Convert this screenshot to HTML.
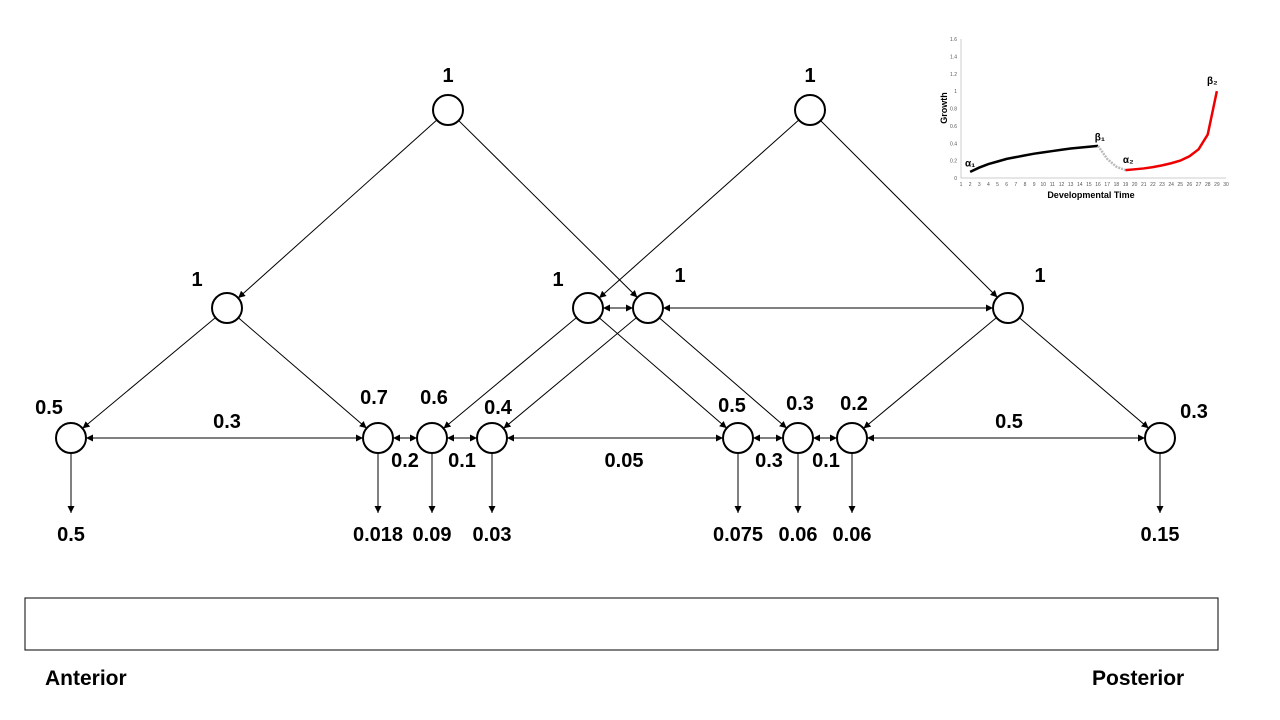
<!DOCTYPE html>
<html><head><meta charset="utf-8"><style>
body{margin:0;background:#fff}
svg{display:block}
text{font-family:"Liberation Sans",sans-serif}
</style></head><body>
<svg id="s" width="1280" height="720">
<defs>
<marker id="ah" viewBox="0 0 10 10" refX="10" refY="5" markerWidth="7" markerHeight="7" markerUnits="userSpaceOnUse" orient="auto-start-reverse"><path d="M0,0L10,5L0,10z" fill="#000"/></marker>
</defs>
<g id="edges"></g><g id="nodes"></g><g id="labels"></g><g id="inset"></g>
<rect x="25" y="598" width="1193" height="52" fill="none" stroke="#000" stroke-width="1"/>
<text x="45" y="685" font-size="21" font-weight="bold">Anterior</text>
<text x="1092" y="685" font-size="21" font-weight="bold">Posterior</text>
</svg>
<script>
const NS='http://www.w3.org/2000/svg';
function mk(t,a,p){const e=document.createElementNS(NS,t);for(const k in a)e.setAttribute(k,a[k]);p.appendChild(e);return e;}
const nodeIds=['t1','t2','m1','m2','m3','m4','b1','b2','b3','b4','b5','b6','b7','b8'];
const nodeX=[448,810,227,588,648,1008,71,378,432,492,738,798,852,1160];
const nodeY=[110,110,308,308,308,308,438,438,438,438,438,438,438,438];
const nodeLabels=['1','1','1','1','1','1','0.5','0.7','0.6','0.4','0.5','0.3','0.2','0.3'];
const labelDX=[0,0,-30,-30,32,32,-22,-4,2,6,-6,2,2,34];
const labelDY=[-28,-28,-22,-22,-26,-26,-24,-34,-34,-24,-26,-28,-28,-20];
const R=15;
const P={};nodeIds.forEach((id,i)=>P[id]=[nodeX[i],nodeY[i]]);
const ng=document.getElementById('nodes'),lg=document.getElementById('labels'),eg=document.getElementById('edges');
nodeIds.forEach((id,i)=>{
 const c=mk('circle',{cx:nodeX[i],cy:nodeY[i],r:R,fill:'#fff',stroke:'#000','stroke-width':2},ng);
 
 
 const t=mk('text',{x:nodeX[i]+labelDX[i],y:nodeY[i]+labelDY[i],'font-size':20,'font-weight':'bold','text-anchor':'middle'},lg);
 t.textContent=nodeLabels[i];
 
 
});
const dirEdges=[['t1','m1'],['t1','m3'],['t2','m2'],['t2','m4'],['m1','b1'],['m1','b2'],['m2','b3'],['m2','b5'],['m3','b4'],['m3','b6'],['m4','b7'],['m4','b8']];
const biEdges=[['m2','m3'],['m3','m4'],['b1','b2'],['b2','b3'],['b3','b4'],['b4','b5'],['b5','b6'],['b6','b7'],['b7','b8']];
function line(a,b,bi,name){
 const [x1,y1]=P[a],[x2,y2]=P[b];const d=Math.hypot(x2-x1,y2-y1);const ux=(x2-x1)/d,uy=(y2-y1)/d;
 const l=mk('line',{x1:x1+ux*R,y1:y1+uy*R,x2:x2-ux*R,y2:y2-uy*R,stroke:'#000','stroke-width':1,'marker-end':'url(#ah)'},eg);
 if(bi)l.setAttribute('marker-start','url(#ah)');
 
 
}
dirEdges.forEach(e=>line(e[0],e[1],false,'edge-'+e[0]+'-'+e[1]));
biEdges.forEach(e=>line(e[0],e[1],true,'exchange-'+e[0]+'-'+e[1]));
const exLabels=['0.3','0.2','0.1','0.05','0.3','0.1','0.5'];
const exX=[227,405,462,624,769,826,1009];
const exY=[428,467,467,467,467,467,428];
exLabels.forEach((s,i)=>{const t=mk('text',{x:exX[i],y:exY[i],'font-size':20,'font-weight':'bold','text-anchor':'middle'},lg);t.textContent=s;
 
 });
const outIds=['b1','b2','b3','b4','b5','b6','b7','b8'];
const outLabels=['0.5','0.018','0.09','0.03','0.075','0.06','0.06','0.15'];
outIds.forEach((id,i)=>{const [x,y]=P[id];
 const l=mk('line',{x1:x,y1:y+R,x2:x,y2:513,stroke:'#000','stroke-width':1,'marker-end':'url(#ah)'},eg);
 
 
 const t=mk('text',{x:x,y:541,'font-size':20,'font-weight':'bold','text-anchor':'middle'},lg);t.textContent=outLabels[i];
 
 });
const blackX=[2,3,4,5,6,7,8,9,10,11,12,13,14,15,16];
const blackY=[0.07,0.12,0.16,0.19,0.22,0.24,0.26,0.28,0.295,0.31,0.325,0.34,0.35,0.36,0.37];
const grayX=[16,17,18,19];
const grayY=[0.37,0.22,0.13,0.09];
const redX=[19,20,21,22,23,24,25,26,27,28,29];
const redY=[0.09,0.1,0.11,0.125,0.145,0.17,0.2,0.25,0.33,0.5,1.0];
const xTicks=[1,2,3,4,5,6,7,8,9,10,11,12,13,14,15,16,17,18,19,20,21,22,23,24,25,26,27,28,29,30];
const yTicks=[0,0.2,0.4,0.6,0.8,1,1.2,1.4,1.6];
const X=v=>961+(v-1)*(1226-961)/29, Y=v=>178-v*(139/1.6);
const ig=document.getElementById('inset');
const ax=mk('path',{d:`M${X(1)},${Y(1.6)}V${Y(0)}H${X(30)}`,fill:'none',stroke:'#ccc','stroke-width':1},ig);

xTicks.forEach(v=>{const t=mk('text',{x:X(v),y:186,'font-size':5,'text-anchor':'middle',fill:'#555'},ig);t.textContent=v;
 });
yTicks.forEach(v=>{const t=mk('text',{x:957,y:Y(v)+2,'font-size':5,'text-anchor':'end',fill:'#555'},ig);t.textContent=v;
 });
function series(xs,ys,col,w,dash,name){const p=mk('polyline',{points:xs.map((x,i)=>X(x)+','+Y(ys[i])).join(' '),fill:'none',stroke:col,'stroke-width':w},ig);
 if(dash)p.setAttribute('stroke-dasharray',dash);
 }
series(blackX,blackY,'#000',2.5,null,'series-phase-1');
series(grayX,grayY,'#bbb',2.5,'2,1','series-transition');
series(redX,redY,'#e00',2.5,null,'series-phase-2');
const ann=[['α₁',2,0.13],['β₁',16.2,0.43],['α₂',19.3,0.17],['β₂',28.5,1.08]];
ann.forEach(a=>{const t=mk('text',{x:X(a[1]),y:Y(a[2]),'font-size':10,'font-weight':'bold','text-anchor':'middle'},ig);t.textContent=a[0];
 });
const xt=mk('text',{x:1091,y:198,'font-size':9,'font-weight':'bold','text-anchor':'middle'},ig);xt.textContent='Developmental Time';

const yt=mk('text',{x:0,y:0,'font-size':9,'font-weight':'bold','text-anchor':'middle',transform:'translate(947,108) rotate(-90)'},ig);yt.textContent='Growth';

</script>
</body></html>
